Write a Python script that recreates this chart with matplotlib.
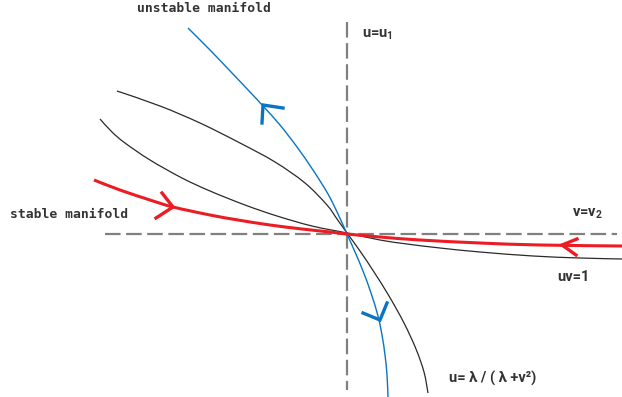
import matplotlib

matplotlib.use("Agg")
import matplotlib.pyplot as plt
from matplotlib.patches import PathPatch
from matplotlib.path import Path

W, H = 622, 397

GRAY = "#808080"
BLUE = "#0a74c4"
RED = "#ec1c24"
BLACK = "#2a2a2a"
TEXT = "#333333"

plt.rcParams["mathtext.fontset"] = "custom"
plt.rcParams["mathtext.rm"] = "Roboto:bold"
plt.rcParams["mathtext.it"] = "Roboto:bold"

# equilibrium and the two nullcline guides (pixel space)
center = (347, 234)
h_guide_x = [105, 617]
v_guide_y = [22, 390]

# unstable manifold
unstable_x = [188, 210, 232, 250, 263, 280, 297, 313, 328, 338, 347, 355, 363, 371, 378, 382, 385, 387, 388]
unstable_y = [28, 50, 73, 92, 106, 125, 147, 170, 194, 214, 234, 252, 271, 293, 316, 335, 355, 375, 397]

# stable manifold
stable_x = [94, 120, 150, 173, 210, 238, 270, 302, 330, 347, 380, 420, 480, 540, 622]
stable_y = [180, 190, 200, 207, 215, 220, 225, 229, 232, 234, 237, 240, 243, 245, 246]

# u = lambda / (lambda + v^2)
curve_a_x = [117, 160, 200, 240, 275, 305, 327, 337, 347, 360, 374, 389, 404, 416, 424, 428]
curve_a_y = [91, 106, 123, 143, 162, 183, 205, 219, 233, 251, 272, 296, 323, 349, 372, 393]

# uv = 1
curve_b_x = [100, 112, 125, 150, 182, 210, 245, 277, 312, 347, 380, 407, 440, 480, 533, 580, 622]
curve_b_y = [119, 132, 143, 160, 178, 191, 205, 216, 226, 233, 240, 244, 248, 252, 256, 258, 259]

# direction chevrons: (tip, arm1, arm2)
blue_arrows = [
    ((263, 105), (283, 108), (262, 123)),
    ((380, 320), (363, 313), (387, 303)),
]
red_arrows = [
    ((173, 207), (162, 193), (156, 218)),
    ((562, 245), (577, 239), (576, 255)),
]


def smooth_path(xs, ys):
    # Catmull-Rom through the points, written as cubic Bezier segments
    pts = list(zip(xs, ys))
    verts = [pts[0]]
    codes = [Path.MOVETO]
    for i in range(len(pts) - 1):
        p0 = pts[i - 1] if i > 0 else pts[i]
        p1, p2 = pts[i], pts[i + 1]
        p3 = pts[i + 2] if i + 2 < len(pts) else pts[i + 1]
        c1 = (p1[0] + (p2[0] - p0[0]) / 6, p1[1] + (p2[1] - p0[1]) / 6)
        c2 = (p2[0] - (p3[0] - p1[0]) / 6, p2[1] - (p3[1] - p1[1]) / 6)
        verts += [c1, c2, p2]
        codes += [Path.CURVE4] * 3
    return Path(verts, codes)


def draw_curve(ax, xs, ys, color, lw, z):
    ax.add_patch(PathPatch(smooth_path(xs, ys), facecolor="none",
                           edgecolor=color, lw=lw, zorder=z))


def chevron(ax, tip, a1, a2, color):
    ax.plot([a1[0], tip[0], a2[0]], [a1[1], tip[1], a2[1]],
            color=color, lw=2.4, solid_joinstyle="miter", zorder=5)


fig = plt.figure(figsize=(W / 100, H / 100), dpi=100)
ax = fig.add_axes([0, 0, 1, 1])
ax.set_xlim(0, W)
ax.set_ylim(H, 0)
ax.axis("off")

ax.plot(h_guide_x, [center[1]] * 2, color=GRAY, lw=1.6, dashes=(7, 2.5), zorder=1)
ax.plot([center[0]] * 2, v_guide_y, color=GRAY, lw=1.6, dashes=(7, 2.5), zorder=1)

draw_curve(ax, curve_a_x, curve_a_y, BLACK, 0.9, 2)
draw_curve(ax, curve_b_x, curve_b_y, BLACK, 0.9, 2)
draw_curve(ax, unstable_x, unstable_y, BLUE, 1.0, 3)
draw_curve(ax, stable_x, stable_y, RED, 2.2, 4)

for tip, a1, a2 in blue_arrows:
    chevron(ax, tip, a1, a2, BLUE)
for tip, a1, a2 in red_arrows:
    chevron(ax, tip, a1, a2, RED)

mono = dict(family="DejaVu Sans Mono", fontweight="bold", fontsize=9.4, color=TEXT)
sans = dict(family=["Roboto", "DejaVu Sans"], fontweight="bold",
            fontsize=10.5, color=TEXT)

ax.text(137, 9, "unstable manifold", ha="left", va="center", **mono)
ax.text(10, 215, "stable manifold", ha="left", va="center", **mono)
ax.text(362, 35, "u=u$_1$", ha="left", va="center", **sans)
ax.text(572, 214, "v=v$_2$", ha="left", va="center", **sans)
ax.text(557, 277, "uv=1", ha="left", va="center", **sans)
ax.text(449, 378, "u= λ / ( λ +v²)", ha="left", va="center", **sans)

fig.savefig("out.png", dpi=100, facecolor="white")
